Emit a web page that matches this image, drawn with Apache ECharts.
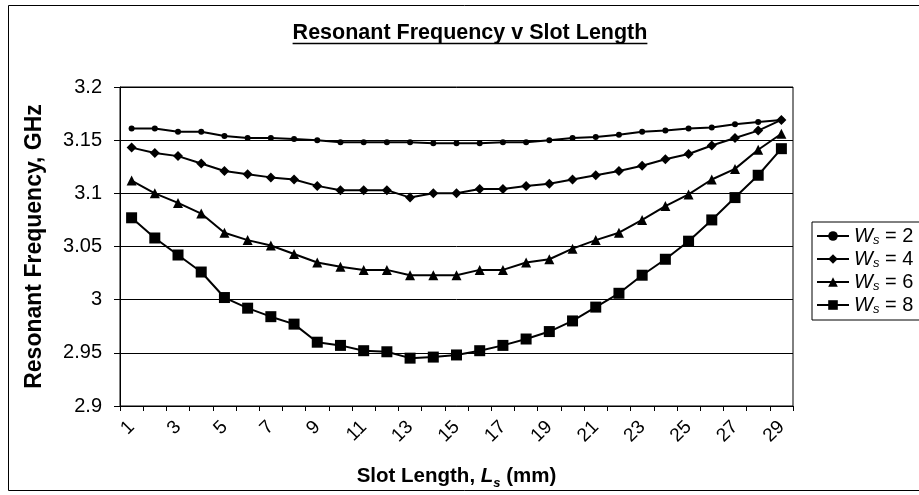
<!DOCTYPE html>
<html><head><meta charset="utf-8">
<script src="https://cdn.jsdelivr.net/npm/echarts@6/dist/echarts.min.js"></script>
<style>html,body{margin:0;padding:0;background:#fff}#c{width:919px;height:495px}</style>
</head><body><div id="c"></div>
<script>
const categories = ['1','2','3','4','5','6','7','8','9','10','11','12','13','14','15','16','17','18','19','20','21','22','23','24','25','26','27','28','29'];
const slotWidths = [2, 4, 6, 8];
const ws2 = [3.161,3.161,3.158,3.158,3.154,3.152,3.152,3.151,3.150,3.148,3.148,3.148,3.148,3.147,3.147,3.147,3.148,3.148,3.150,3.152,3.153,3.155,3.158,3.159,3.161,3.162,3.165,3.167,3.169];
const ws4 = [3.143,3.138,3.135,3.128,3.121,3.118,3.115,3.113,3.107,3.103,3.103,3.103,3.096,3.100,3.100,3.104,3.104,3.107,3.109,3.113,3.117,3.121,3.126,3.132,3.137,3.145,3.152,3.159,3.169];
const ws6 = [3.112,3.100,3.091,3.081,3.063,3.056,3.051,3.043,3.035,3.031,3.028,3.028,3.023,3.023,3.023,3.028,3.028,3.035,3.038,3.048,3.056,3.063,3.075,3.088,3.099,3.113,3.123,3.141,3.156];
const ws8 = [3.077,3.058,3.042,3.026,3.002,2.992,2.984,2.977,2.960,2.957,2.952,2.951,2.945,2.946,2.948,2.952,2.957,2.963,2.970,2.980,2.993,3.006,3.023,3.038,3.055,3.075,3.096,3.117,3.142];
const yMin = 2.9, yMax = 3.2, yStep = 0.05;
const titleText = 'Resonant Frequency v Slot Length';
const yTitle = 'Resonant Frequency, GHz';

const FONT = '"Liberation Sans", Arial, Helvetica, sans-serif';
const seriesData = [ws2, ws4, ws6, ws8];
const symbols = ['circle', 'diamond', 'triangle', 'rect'];
const symbolSizes = [6, 10, 10, 11];

const chart = echarts.init(document.getElementById('c'), null, {renderer: 'canvas'});

// measure title for underline
const TITLE_SIZE = 21.5;
const ctx = document.createElement('canvas').getContext('2d');
ctx.font = 'bold ' + TITLE_SIZE + 'px ' + FONT;
const titleW = ctx.measureText(titleText).width;
const titleX = 470, titleY = 22;

const series = slotWidths.map((w, i) => ({
  name: 'W' + w,
  type: 'line',
  data: seriesData[i],
  symbol: symbols[i],
  symbolSize: symbolSizes[i],
  showSymbol: true,
  animation: false,
  lineStyle: {color: '#000', width: 2},
  itemStyle: {color: '#000'},
  z: 3 + i
}));

const option = {
  animation: false,
  backgroundColor: '#fff',
  grid: {left: 120, right: 126, top: 87, bottom: 87, show: true, borderColor: '#000', borderWidth: 1},
  xAxis: {
    type: 'category',
    data: categories,
    boundaryGap: true,
    axisLine: {lineStyle: {color: '#000', width: 1}},
    axisTick: {show: true, interval: 0, length: 5, lineStyle: {color: '#000'}},
    axisLabel: {interval: 1, rotate: 45, fontSize: 19, color: '#000', fontFamily: FONT, margin: 18},
    name: '{b|Slot Length, }{i|L}{s|s}{b| (mm)}',
    nameLocation: 'middle',
    nameGap: 56,
    nameTextStyle: {
      rich: {
        b: {fontSize: 20.5, fontWeight: 'bold', fontFamily: FONT, color: '#000', lineHeight: 28, verticalAlign: 'middle'},
        i: {fontSize: 20.5, fontWeight: 'bold', fontStyle: 'italic', fontFamily: FONT, color: '#000', lineHeight: 28, verticalAlign: 'middle'},
        s: {fontSize: 13, fontWeight: 'bold', fontStyle: 'italic', fontFamily: FONT, color: '#000', lineHeight: 13, verticalAlign: 'bottom'}
      }
    }
  },
  yAxis: {
    type: 'value',
    min: yMin, max: yMax, interval: yStep,
    axisLine: {show: true, lineStyle: {color: '#000', width: 1}},
    axisTick: {show: true, length: 6, lineStyle: {color: '#000'}},
    splitLine: {show: true, lineStyle: {color: '#000', width: 1}},
    axisLabel: {fontSize: 20, color: '#000', fontFamily: FONT, margin: 18,
      formatter: v => String(+v.toFixed(2))},
    name: yTitle,
    nameLocation: 'middle',
    nameGap: 74,
    nameTextStyle: {fontSize: 23, fontWeight: 'bold', fontFamily: FONT, color: '#000'}
  },
  legend: {
    orient: 'vertical',
    left: 812, top: 222,
    itemWidth: 32, itemHeight: 12, itemGap: 2,
    padding: [4, 10, 4, 4],
    borderColor: '#000', borderWidth: 1, backgroundColor: '#fff',
    data: series.map(s => s.name),
    formatter: name => '{w|W}{s|s}{e| = ' + name.slice(1) + '}',
    textStyle: {
      rich: {
        w: {fontSize: 20, fontStyle: 'italic', fontFamily: FONT, color: '#000', lineHeight: 22, verticalAlign: 'middle'},
        s: {fontSize: 13, fontStyle: 'italic', fontFamily: FONT, color: '#000', lineHeight: 13, verticalAlign: 'bottom'},
        e: {fontSize: 20, fontFamily: FONT, color: '#000', lineHeight: 22, verticalAlign: 'middle'}
      }
    }
  },
  graphic: [
    {type: 'rect', silent: true, shape: {x: 8.5, y: 5.5, width: 930, height: 485}, style: {fill: null, stroke: '#000', lineWidth: 1}},
    {type: 'text', silent: true, x: titleX, y: titleY, style: {text: titleText, fontSize: TITLE_SIZE, fontWeight: 'bold', fontFamily: FONT, fill: '#000', align: 'center', verticalAlign: 'top'}},
    {type: 'line', silent: true, shape: {x1: titleX - titleW / 2, y1: titleY + 21.5, x2: titleX + titleW / 2, y2: titleY + 21.5}, style: {stroke: '#000', lineWidth: 1.5}}
  ],
  series: series
};
chart.setOption(option);
</script>
</body></html>
